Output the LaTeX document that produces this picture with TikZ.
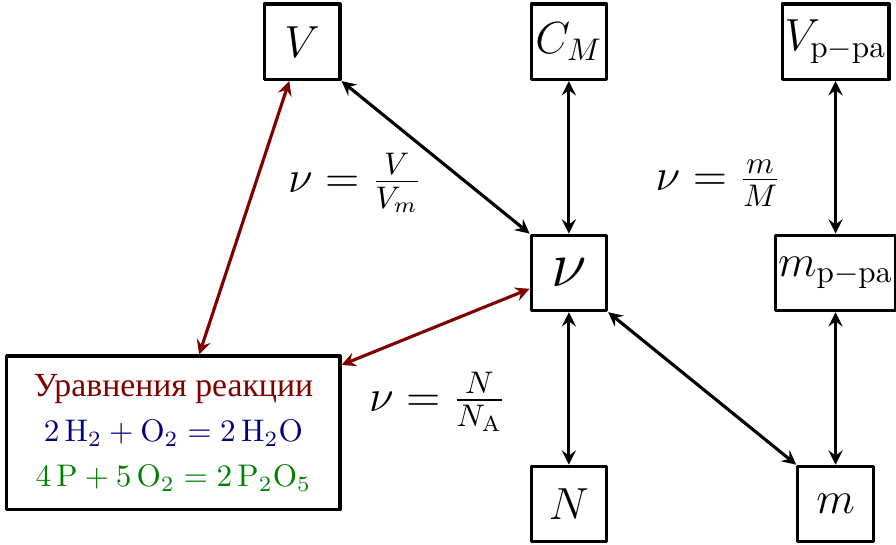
\documentclass[tikz,border=0pt]{standalone}
\usepackage{fontspec}
\newfontfamily\cyrfont[Scale=1.08]{Liberation Serif}
\definecolor{darkred}{rgb}{0.5,0,0}
\definecolor{darkblue}{rgb}{0,0,0.5}
\definecolor{darkgreen}{rgb}{0,0.5,0}
\tikzset{box/.style={draw, line width=1pt, minimum size=0.85cm, inner sep=0.8pt, font=\Large}}
\begin{document}
\begin{tikzpicture}[line join=round, line cap=round,>=stealth, line width=1pt]
	\useasboundingbox (-6.4,-3.05) rectangle (3.68,3.07);
	\node[box] (V) at (-3,2.6) {$V$};
	\node[box] (CM) at (0,2.6) {$C_M$};
	\node[box] (Vp) at (3,2.6) {$V_{\mathrm{p-pa}}$};
	\node[box,font=\huge] (nu) at (0,0) {$\nu$};
	\node[box] (mp) at (3,0) {$m_{\mathrm{p-pa}}$};
	\node[box] (N) at (0,-2.6) {$N$};
	\node[box] (m) at (3,-2.6) {$m$};
	\node[draw, line width=1pt, minimum width=3.75cm, minimum height=1.73cm, align=center] (reac) at (-4.45,-1.8)
	{\textcolor{darkred}{\cyrfont Уравнения реакции}\\[2.5pt]
	\textcolor{darkblue}{$2\,\mathrm{H}_2+\mathrm{O}_2=2\,\mathrm{H}_2\mathrm{O}$}\\[2.5pt]
	\textcolor{darkgreen}{$4\,\mathrm{P}+5\,\mathrm{O}_2=2\,\mathrm{P}_2\mathrm{O}_5$}};
	% formulas
	\node[font=\Large] (fV) at (-2.41,1.01) {$\nu=\frac{V}{V_m}$};
	\node[font=\Large] (fm) at (1.68,1.01) {$\nu=\frac{m}{M}$};
	\node[font=\Large] (fN) at (-1.48,-1.45) {$\nu=\frac{N}{N_{\mathrm{A}}}$};
	% arrows
	\draw[<->] (V.south east)--(nu.north west);
	\draw[<->] (CM)--(nu);
	\draw[<->] (nu)--(N);
	\draw[<->] (nu.south east)--(m.north west);
	\draw[<->] (Vp)--(mp);
	\draw[<->] (mp)--(m);
	\draw[<->,darkred] (V)--(reac);
	\draw[<->,darkred] (nu)--(reac);
\end{tikzpicture}
\end{document}
